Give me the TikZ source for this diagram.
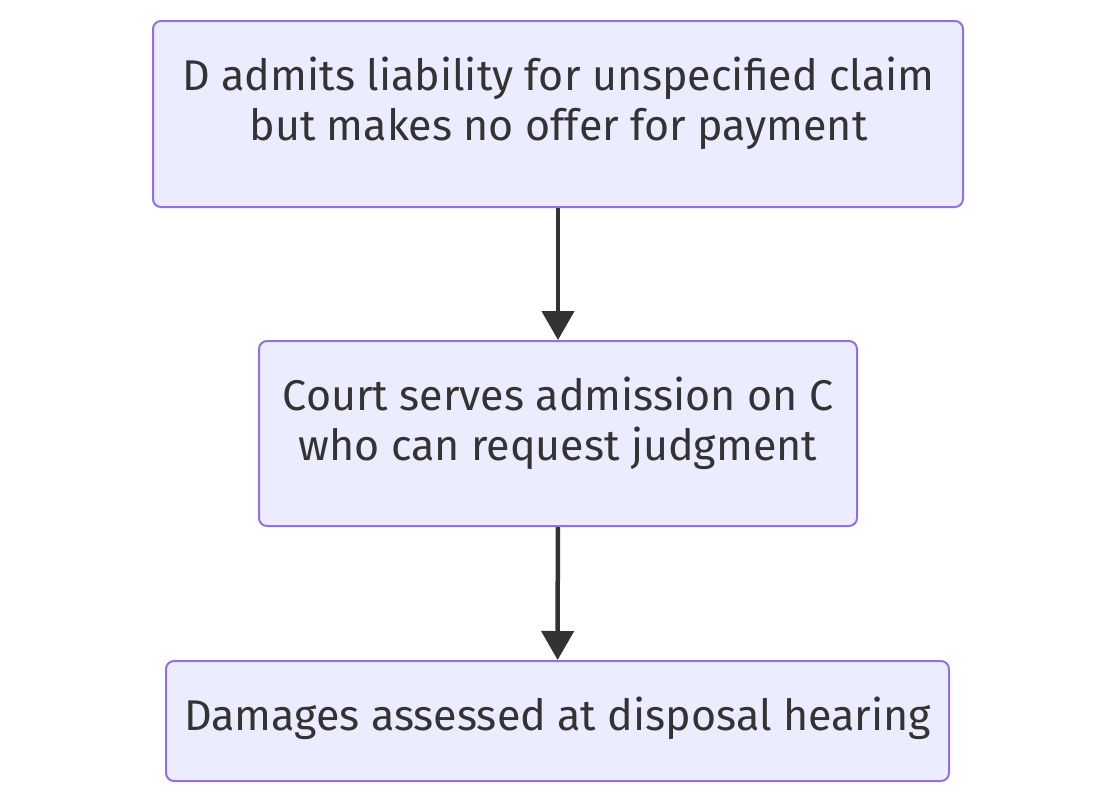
\documentclass[tikz,border=0pt]{standalone}
\usepackage{fontspec}
\setmainfont{Fira Sans}
\usetikzlibrary{arrows.meta}
\definecolor{boxfill}{HTML}{ECECFF}
\definecolor{boxline}{HTML}{9370DB}
\definecolor{ink}{HTML}{333333}
\begin{document}
\begin{tikzpicture}[x=1pt,y=-1pt,
  box/.style={draw=boxline,fill=boxfill,line width=2pt,rounded corners=8pt,inner sep=0pt},
  txt/.style={text=ink,font=\fontsize{43}{50}\selectfont,inner sep=0pt,anchor=base},
  link/.style={draw=ink,line width=4.5pt,-{Triangle[length=29pt,width=32pt]}}]
\useasboundingbox (0,0) rectangle (1116,803);
\node[box,minimum width=810pt,minimum height=186pt] (a) at (558,114) {};
\node[box,minimum width=598pt,minimum height=185pt] (b) at (558,433.5) {};
\node[box,minimum width=783pt,minimum height=120pt] (c) at (557.5,721) {};
\node[txt] (a1) at (558.5,90) {D admits liability for unspecified claim};
\node[txt] (a2) at (558.5,140) {but makes no offer for payment};
\node[txt] (b1) at (558,410) {Court serves admission on C};
\node[txt] (b2) at (558,460) {who can request judgment};
\node[txt] (c1) at (557.5,730) {Damages assessed at disposal hearing};
\draw[link] (a) -- (b);
\draw[link] (b) -- (c);
\end{tikzpicture}
\end{document}
